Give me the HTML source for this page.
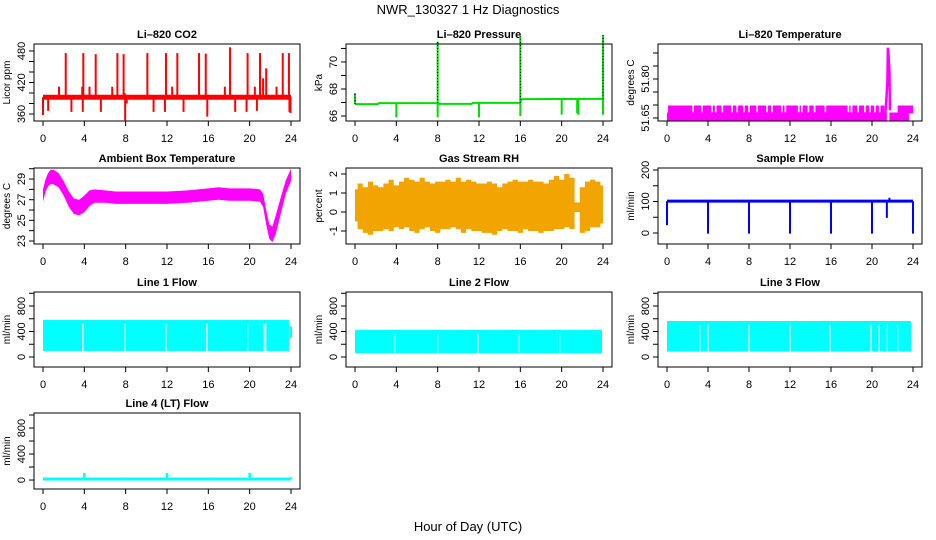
<!DOCTYPE html>
<html><head><meta charset="utf-8">
<style>
html,body{margin:0;padding:0;background:#fff;}
svg{display:block;font-family:"Liberation Sans",Arial,sans-serif;}
</style></head>
<body>
<svg id="chart" width="936" height="540" viewBox="0 0 936 540" xmlns="http://www.w3.org/2000/svg">
<text x="468" y="14" text-anchor="middle" font-size="13">NWR_130327  1 Hz Diagnostics</text>
<text x="468" y="531" text-anchor="middle" font-size="13">Hour of Day (UTC)</text>
</svg>
<script>
// ---------- data ----------
const xTicks = [0,4,8,12,16,20,24];

const co2Base = 392;
const co2SpikeHours = [2.2,3.9,5.1,7.2,7.8,10.1,11.9,13.0,15.1,15.75,18.1,19.8,21.0,21.6,23.2,23.8,1.55,3.8,4.5,6.7,7.9,12.5,17.6,20.5,21.3,22.6,0.0,0.5,2.75,3.85,5.6,7.95,8.1,10.7,11.8,13.6,15.9,18.6,19.7,20.7,23.85,23.95];
const co2SpikeValues = [476,476,474,476,474,476,476,476,476,475,487,476,476,447,476,476,412,412,412,412,400,412,412,412,428,412,358,366,364,364,364,348,380,364,364,364,355,364,364,366,364,362];

const pressStepHours = [0,2.2,2.3,8,8.1,11.3,11.4,16,16.1,24];
const pressStepValues = [66.88,66.88,66.95,66.95,66.9,66.9,66.97,66.97,67.25,67.27];
const pressSpikeHours = [0.0,4.0,8.0,8.0,12.0,16.0,16.0,20.0,21.5,21.6,24.0,24.0];
const pressSpikeValues = [67.7,65.9,71.5,65.9,65.9,71.9,66.0,66.1,66.2,66.1,72.0,66.1];

const tempLevelLow = 51.6404, tempLevelMid = 51.6712, tempLevelHigh = 51.6981;
const tempGapHours = [2.55,3.4,4.4,4.75,5.4,6.35,6.85,7.5,8.0,8.8,9.75,10.25,11.2,11.55,12.85,13.15,13.8,14.4,15.45,17.7,18.0,18.65,19.3,19.8,20.3,20.75];
const tempSpikeHours = [21.3,21.4,21.5,21.55,21.6,21.7,21.75];
const tempSpikeValues = [51.67,51.72,51.79,51.92,51.90,51.83,51.68];

const ambHours = [0,0.25,0.5,0.75,1,1.5,2,2.5,3,3.5,4,4.5,5,6,7,8,10,12,14,16,17,18,19,20,21,21.3,21.6,21.9,22.2,22.5,23,23.5,24];
const ambUpper = [28.0,29.0,29.6,29.9,29.9,29.6,28.8,27.8,27.1,27.0,27.4,27.9,28.0,27.9,27.8,27.8,27.8,27.8,27.9,28.1,28.2,28.1,28.1,28.1,28.0,27.6,26.0,24.6,24.4,25.4,27.2,28.9,30.0];
const ambLower = [26.8,27.8,28.3,28.5,28.5,28.2,27.4,26.3,25.6,25.5,25.8,26.4,26.7,26.7,26.6,26.6,26.6,26.6,26.7,26.9,27.0,26.9,26.9,26.9,26.8,26.3,24.6,23.2,22.9,23.6,25.6,27.6,28.8];

const rhHours = [0,0.5,1,1.5,2,2.5,3,3.5,4,4.5,5,5.5,6,6.5,7,7.5,8,8.5,9,9.5,10,10.5,11,11.5,12,12.5,13,13.5,14,14.5,15,15.5,16,16.5,17,17.5,18,18.5,19,19.5,20,20.5,21,21.5,22,22.5,23,23.5,24];
const rhUpper = [1.2,1.5,1.3,1.6,1.4,1.3,1.5,1.7,1.4,1.6,1.8,1.7,1.6,1.8,1.6,1.5,1.6,1.6,1.7,1.6,1.8,1.6,1.7,1.6,1.5,1.5,1.6,1.5,1.3,1.5,1.6,1.7,1.6,1.6,1.7,1.6,1.6,1.5,1.7,1.9,1.7,2.0,1.8,0.5,1.3,1.6,1.7,1.6,1.4];
const rhLower = [-0.5,-0.9,-1.1,-1.2,-1.0,-1.0,-0.9,-1.0,-0.8,-0.9,-0.8,-1.0,-1.1,-0.9,-0.8,-1.0,-1.1,-0.9,-0.9,-0.8,-0.9,-1.1,-0.9,-1.0,-1.0,-1.1,-1.1,-1.2,-1.0,-0.9,-1.0,-1.0,-1.1,-0.9,-1.0,-1.0,-1.1,-1.0,-1.0,-0.9,-0.9,-0.8,-0.9,0.0,-1.1,-1.0,-0.8,-0.8,-0.6];

const sampleBase = 101;
const sampleDipHours = [0.0,4.0,8.0,12.0,16.0,20.0,24.0,21.45,21.7];
const sampleDipValues = [25,-2,-2,-2,-2,-2,-2,48,112];

const line1Top = 580, line1Bottom = 95, line1End = 23.8;
const line1GapHours = [3.85,7.95,11.9,15.85,19.8,21.4,21.55];
const line2Top = 425, line2Bottom = 60, line2End = 23.9;
const line2GapHours = [3.9,8.0,11.9,15.9,19.8];
const line3Top = 565, line3Bottom = 85, line3End = 23.8;
const line3GapHours = [3.2,4.0,8.0,12.0,15.9,19.9,20.7,21.5,22.5];
const line4Base = 15;
const line4SpikeHours = [4,8,12,16,20,24];
const line4SpikeValues = [110,40,110,40,110,40];

// ---------- layout ----------
const svg = document.getElementById('chart');
const NS = 'http://www.w3.org/2000/svg';
function mk(tag, attrs, parent){const e=document.createElementNS(NS,tag);for(const k in attrs)e.setAttribute(k,attrs[k]);(parent||svg).appendChild(e);return e;}

const cols = [[34,300],[346,612],[658,922]];
const rows = [[44,121],[168,244],[292,367],[413,489]];

function panel(id, c, r, dom, ticks, labels, title, ylab, fmt){
  const [x0,x1]=cols[c],[y0,y1]=rows[r];
  const g = mk('g',{});
  
  
  const p = {g,x0,x1,y0,y1,
    X:h=>x0+9+(h/24)*(x1-x0-18),
    Y:v=>y1-(v-dom[0])/(dom[1]-dom[0])*(y1-y0)};
  const t = mk('text',{x:(x0+x1)/2,y:y0-6,'text-anchor':'middle','font-size':11,'font-weight':'bold'},g);
  t.textContent=title;
  
  
  const yl = mk('text',{transform:`translate(${x0-24},${(y0+y1)/2}) rotate(-90)`,'text-anchor':'middle','font-size':10},g);
  yl.textContent=ylab;
  
  
  xTicks.forEach(h=>{
    const tk=mk('line',{x1:p.X(h),x2:p.X(h),y1:y1,y2:y1+5,stroke:'#000'},g);
    
    
    const lb=mk('text',{x:p.X(h),y:y1+21,'text-anchor':'middle','font-size':11},g);
    lb.textContent=h;
    
    
  });
  ticks.forEach(v=>{
    const tk=mk('line',{x1:x0-5,x2:x0,y1:p.Y(v),y2:p.Y(v),stroke:'#000'},g);
    
    
  });
  labels.forEach(v=>{
    const lb=mk('text',{transform:`translate(${x0-9},${p.Y(v)}) rotate(-90)`,'text-anchor':'middle','font-size':11},g);
    lb.textContent=fmt?v.toFixed(fmt):v;
    
    
  });
  p.plot = mk('g',{},g);
  
  
  p.finish=()=>{
    const b=mk('rect',{x:x0,y:y0,width:x1-x0,height:y1-y0,fill:'none',stroke:'#000'},g);
    
    
  };
  return p;
}
function seg(p,h1,v1,h2,v2,col,w,name,extra){
  const l=mk('line',Object.assign({x1:p.X(h1),y1:p.Y(v1),x2:p.X(h2),y2:p.Y(v2),stroke:col,'stroke-width':w},extra||{}),p.plot);
  
  
  return l;
}
function band(p,hs,up,lo,fill,name,step){
  let pts=[];
  if(step){
    for(let i=0;i<hs.length;i++){const a=i?(hs[i-1]+hs[i])/2:hs[i],b=i<hs.length-1?(hs[i]+hs[i+1])/2:hs[i];pts.push([p.X(a),p.Y(up[i])],[p.X(b),p.Y(up[i])]);}
    for(let i=hs.length-1;i>=0;i--){const a=i?(hs[i-1]+hs[i])/2:hs[i],b=i<hs.length-1?(hs[i]+hs[i+1])/2:hs[i];pts.push([p.X(b),p.Y(lo[i])],[p.X(a),p.Y(lo[i])]);}
  } else {
    hs.forEach((h,i)=>pts.push([p.X(h),p.Y(up[i])]));
    for(let i=hs.length-1;i>=0;i--)pts.push([p.X(hs[i]),p.Y(lo[i])]);
  }
  const e=mk('polygon',{points:pts.map(q=>q.join(',')).join(' '),fill:fill},p.plot);
  
  
  return e;
}

// ---- CO2 ----
const pc = panel('co2',0,0,[346.7,493.3],[360,380,400,420,440,460,480],[360,420,480],'Li–820 CO2','Licor ppm');
seg(pc,0,co2Base,24,co2Base,'#ff0000',5,'co2-baseline');
co2SpikeHours.forEach((h,i)=>{seg(pc,h,co2Base,h,co2SpikeValues[i],'#ff0000',2,'co2-spike');});
pc.finish();

// ---- Pressure ----
const pp = panel('pressure',1,0,[65.63,71.33],[66,67,68,69,70,71],[66,68,70],'Li–820 Pressure','kPa');
{
  const pts=pressStepHours.map((h,i)=>pp.X(h)+','+pp.Y(pressStepValues[i])).join(' ');
  const l=mk('polyline',{points:pts,fill:'none',stroke:'#00e000','stroke-width':2},pp.plot);
  
  
}
pressSpikeHours.forEach((h,i)=>{
  const base=pressStepValues[Math.min(pressStepValues.length-1,pressStepHours.findIndex(x=>x>=h))];
  seg(pp,h,base,h,pressSpikeValues[i],'#00e000',2,'pressure-spike');
  if(pressSpikeValues[i]>base+0.5) seg(pp,h,base,h,pressSpikeValues[i],'#000',1,'pressure-spike-dots',{'stroke-dasharray':'1,2'});
});
pp.finish();

// ---- Li-820 Temperature ----
const pt = panel('li820-temp',2,0,[51.6385,51.9346],[51.65,51.7,51.75,51.8,51.85,51.9],[51.65,51.8],'Li–820 Temperature','degrees C',2);
function trect(p,h1,h2,v1,v2,fill,name){const r=mk('rect',{x:p.X(h1),y:p.Y(v2),width:p.X(h2)-p.X(h1),height:p.Y(v1)-p.Y(v2),fill:fill},p.plot);}
trect(pt,0,21.45,tempLevelLow,tempLevelMid,'#ff00ff','temp-low-band');
trect(pt,21.7,23.6,tempLevelLow,tempLevelMid,'#ff00ff','temp-low-band');
trect(pt,23.6,24,tempLevelMid-0.003,tempLevelMid,'#ff00ff','temp-low-band');
trect(pt,0.1,21.2,tempLevelMid,tempLevelHigh,'#ff00ff','temp-high-band');
trect(pt,22.5,24,tempLevelMid,tempLevelHigh,'#ff00ff','temp-high-band');
tempGapHours.forEach(h=>trect(pt,h-0.08,h+0.08,tempLevelMid+0.001,tempLevelHigh,'#ffffff','temp-gap'));
{
  const pts=tempSpikeHours.map((h,i)=>pt.X(h)+','+pt.Y(tempSpikeValues[i])).join(' ');
  const l=mk('polyline',{points:pts,fill:'none',stroke:'#ff00ff','stroke-width':2.5},pt.plot);
  
  
}
pt.finish();

// ---- Ambient ----
const pa = panel('ambient-temp',0,1,[22.71,30.07],[23,24,25,26,27,28,29,30],[23,25,27,29],'Ambient Box Temperature','degrees C');
band(pa,ambHours,ambUpper,ambLower,'#ff00ff','ambient-band');
pa.finish();

// ---- RH ----
const pr = panel('rh',1,1,[-1.684,2.316],[-1,0,1,2],[-1,0,1,2],'Gas Stream RH','percent');
band(pr,rhHours,rhUpper,rhLower,'#f2a400','rh-band',true);
pr.finish();

// ---- Sample flow ----
const ps = panel('sample-flow',2,1,[-34.9,206.3],[0,50,100,150,200],[0,100,200],'Sample Flow','ml/min');
seg(ps,0,sampleBase,24,sampleBase,'#0000ff',3,'sample-baseline');
sampleDipHours.forEach((h,i)=>seg(ps,h,sampleBase,h,sampleDipValues[i],'#0000ff',2,'sample-dip'));
ps.finish();

// ---- Line flows ----
function lineFlow(id,c,r,dom,top,bottom,end,gaps,title){
  const p=panel(id,c,r,dom,[0,200,400,600,800,1000],[0,400,800],title,'ml/min');
  trect(p,0,end,bottom,top,'#00ffff',id+'-band');
  gaps.forEach(h=>trect(p,h-0.06,h+0.06,bottom,top-60,'#ffffff',id+'-gap'));
  p.finish();return p;
}
const l1=lineFlow('line1-flow',0,2,[-157,1020],line1Top,line1Bottom,line1End,line1GapHours,'Line 1 Flow');
seg(l1,24,300,24,480,'#00ffff',2,'line1-flow-end');
lineFlow('line2-flow',1,2,[-157,1020],line2Top,line2Bottom,line2End,line2GapHours,'Line 2 Flow');
lineFlow('line3-flow',2,2,[-157,1020],line3Top,line3Bottom,line3End,line3GapHours,'Line 3 Flow');

const l4=panel('line4-flow',0,3,[-138,1031],[0,200,400,600,800,1000],[0,400,800],'Line 4 (LT) Flow','ml/min');
seg(l4,0,line4Base,24,line4Base,'#00ffff',3,'line4-baseline');
line4SpikeHours.forEach((h,i)=>seg(l4,h,line4Base,h,line4SpikeValues[i],'#00ffff',2.5,'line4-spike'));
l4.finish();
</script>
</body></html>
